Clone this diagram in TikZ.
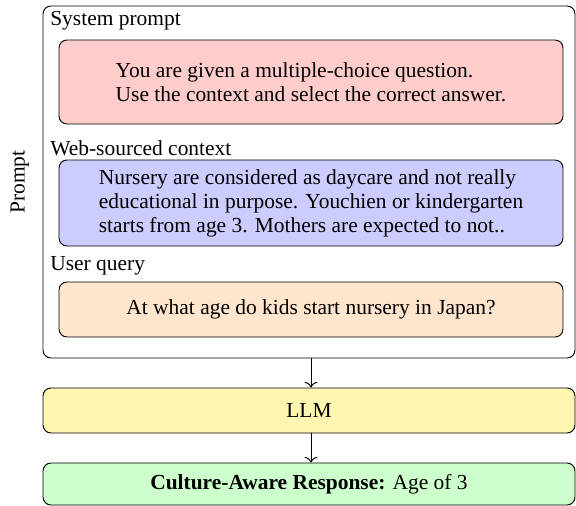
\documentclass[tikz,border=0pt]{standalone}
\usepackage{fontspec}
\setmainfont{Liberation Serif}
\usetikzlibrary{arrows.meta}
\begin{document}
\begin{tikzpicture}[x=0.625pt,y=-0.625pt,
  every node/.style={font=\fontsize{13.4}{15}\selectfont},
  box/.style={draw=black, line width=0.6pt, rounded corners=5pt, inner sep=0pt},
  lbl/.style={anchor=west, inner sep=0pt},
  conn/.style={line width=0.6pt, -{To[length=3.5pt,width=8pt]}}]
\useasboundingbox (0,0) rectangle (576,506);
\definecolor{cred}{RGB}{255,204,204}
\definecolor{cblue}{RGB}{204,204,255}
\definecolor{cpeach}{RGB}{255,229,204}
\definecolor{cyellow}{RGB}{255,246,178}
\definecolor{cgreen}{RGB}{204,255,204}
\node[box, minimum width=532*0.625pt, minimum height=352*0.625pt] (prompt) at (309,182) {};
\node[rotate=90, inner sep=0pt] (plabel) at (20,182) {Prompt};
\node[lbl] (sysl) at (50,21) {System prompt};
\node[box, fill=cred, minimum width=504*0.625pt, minimum height=84*0.625pt, align=left] (sys) at (311,82)
  {You are given a multiple-choice question.\\Use the context and select the correct answer.};
\node[lbl] (webl) at (50,148) {Web-sourced context};
\node[box, fill=cblue, minimum width=504*0.625pt, minimum height=86*0.625pt, align=left] (web) at (311,203)
  {Nursery are considered as daycare and not really\\educational in purpose. Youchien or kindergarten\\starts from age 3. Mothers are expected to not..};
\node[lbl] (userl) at (50,266) {User query};
\node[box, fill=cpeach, minimum width=504*0.625pt, minimum height=55*0.625pt] (user) at (311,309.5)
  {At what age do kids start nursery in Japan?};
\node[box, fill=cyellow, minimum width=532*0.625pt, minimum height=45*0.625pt] (llm) at (309,410.5) {LLM};
\node[box, fill=cgreen, minimum width=532*0.625pt, minimum height=42*0.625pt] (resp) at (309,484)
  {\textbf{Culture-Aware Response:} Age of 3};
\draw[conn] ([xshift=1.25pt]prompt.south) -- ([xshift=1.25pt]llm.north);
\draw[conn] ([xshift=1.25pt]llm.south) -- ([xshift=1.25pt]resp.north);
\end{tikzpicture}
\end{document}
